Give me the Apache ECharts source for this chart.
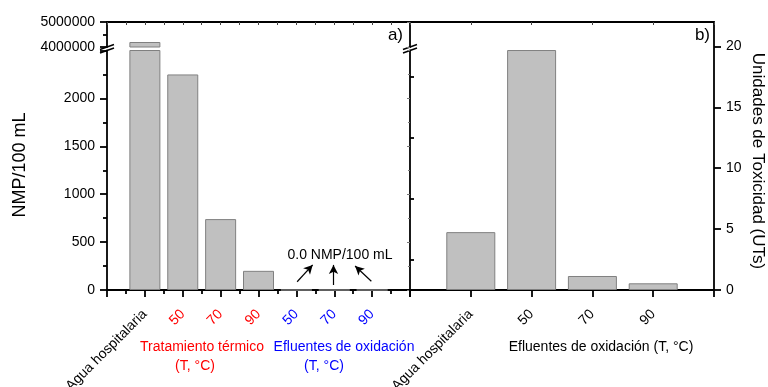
<!DOCTYPE html>
<html>
<head>
<meta charset="utf-8">
<script src="https://cdn.jsdelivr.net/npm/echarts@6/dist/echarts.min.js"></script>
<style>html,body{margin:0;padding:0;background:#fff}#c{width:768px;height:387px}</style>
</head>
<body>
<div id="c"></div>
<script>
// ---- data ----
const catsA = ['Agua hospitalaria', '50', '70', '90', '50', '70', '90'];
const groupA = ['base', 'thermal', 'thermal', 'thermal', 'oxid', 'oxid', 'oxid'];
const nmpValues = [4200000, 2250, 740, 200, 0, 0, 0];
const catsB = ['Agua hospitalaria', '50', '70', '90'];
const utsValues = [4.75, 19.7, 1.15, 0.55];
const upperTicks = [4000000, 5000000];
const lowerTicks = [0, 500, 1000, 1500, 2000];
const utsTicks = [0, 5, 10, 15, 20];
const utsMinorTicks = [2.5, 7.5, 12.5, 17.5];

const FONT = '"Liberation Sans", Arial, sans-serif';
const BLACK = '#000';
const groupColor = {base: '#000000', thermal: '#ff0000', oxid: '#0000ff'};

const chart = echarts.init(document.getElementById('c'), null, {renderer: 'canvas'});

const LW = 1.8;
const axisLine = () => ({show: true, onZero: false, lineStyle: {color: BLACK, width: LW}});

const barStyle = {color: '#c0c0c0', borderColor: '#808080', borderWidth: 1};

const richA = {};
Object.keys(groupColor).forEach(k => {
  richA[k] = {color: groupColor[k], fontSize: 14, fontFamily: FONT};
});

function breakMark(x, y) {
  return {
    type: 'group', x: x, y: y, z: 100,
    children: [
      {type: 'polygon', shape: {points: [[-7, 1], [7, -4], [7, -0.5], [-7, 4.5]]}, style: {fill: '#fff', stroke: null}},
      {type: 'line', shape: {x1: -7, y1: 1, x2: 7, y2: -4}, style: {stroke: BLACK, lineWidth: 1.4}},
      {type: 'line', shape: {x1: -7, y1: 4.5, x2: 7, y2: -0.5}, style: {stroke: BLACK, lineWidth: 1.4}}
    ]
  };
}

function txt(x, y, text, opts) {
  return Object.assign({
    type: 'text', x: x, y: y, z: 100,
    style: Object.assign({text: text, font: '14px ' + FONT, fill: BLACK, align: 'center', verticalAlign: 'middle'}, opts && opts.style || {})
  }, opts && opts.el || {});
}

const gridBase = {containLabel: false, outerBoundsMode: 'none'};

const option = {
  animation: false,
  backgroundColor: '#fff',
  grid: [
    Object.assign({left: 107, top: 22, width: 303, height: 25}, gridBase),
    Object.assign({left: 107, top: 50.5, width: 303, height: 239.5}, gridBase),
    Object.assign({left: 410, top: 22, width: 304, height: 268}, gridBase)
  ],
  xAxis: [
    {type: 'value', gridIndex: 0, min: 0, max: 8, interval: 1, show: false},
    {type: 'value', gridIndex: 0, position: 'top', min: 0, max: 8, interval: 1,
      axisLine: axisLine(), axisLabel: {show: false}, splitLine: {show: false},
      axisTick: {show: true, inside: true, length: 3, lineStyle: {color: '#444', width: 1}},
      minorTick: {show: true, splitNumber: 2, length: 3, lineStyle: {color: '#444', width: 1}}},
    {type: 'value', gridIndex: 1, position: 'bottom', min: 0, max: 8, interval: 1,
      axisLine: axisLine(), splitLine: {show: false},
      axisTick: {show: true, inside: false, length: 7, lineStyle: {color: BLACK, width: LW}},
      minorTick: {show: true, splitNumber: 2, length: 4, lineStyle: {color: BLACK, width: LW}},
      axisLabel: {
        rotate: 45, margin: 22, fontSize: 14, fontFamily: FONT,
        formatter: function (v) {
          const i = Math.round(v) - 1;
          if (i < 0 || i >= catsA.length) return '';
          return '{' + groupA[i] + '|' + catsA[i] + '}';
        },
        rich: richA
      }},
    {type: 'value', gridIndex: 2, position: 'bottom', min: 0, max: catsB.length + 1, interval: 1,
      axisLine: axisLine(), splitLine: {show: false},
      axisTick: {show: true, inside: false, length: 7, lineStyle: {color: BLACK, width: LW}},
      axisLabel: {
        rotate: 45, margin: 22, fontSize: 14, fontFamily: FONT, color: BLACK,
        formatter: function (v) {
          const i = Math.round(v) - 1;
          if (i < 0 || i >= catsB.length) return '';
          return catsB[i];
        }
      }},
    {type: 'value', gridIndex: 2, position: 'top', min: 0, max: catsB.length + 1, interval: 1,
      axisLine: axisLine(), axisLabel: {show: false}, splitLine: {show: false},
      axisTick: {show: true, inside: true, length: 3, lineStyle: {color: '#444', width: 1}}}
  ],
  yAxis: [
    {type: 'value', gridIndex: 0, position: 'left', min: upperTicks[0], max: upperTicks[upperTicks.length - 1],
      interval: upperTicks[1] - upperTicks[0],
      axisLine: axisLine(), splitLine: {show: false},
      axisTick: {show: true, inside: false, length: 7, lineStyle: {color: BLACK, width: LW}},
      minorTick: {show: true, splitNumber: 2, length: 4, lineStyle: {color: BLACK, width: LW}},
      axisLabel: {margin: 12, fontSize: 14, fontFamily: FONT, color: BLACK, formatter: v => String(v)}},
    {type: 'value', gridIndex: 0, position: 'right', min: upperTicks[0], max: upperTicks[upperTicks.length - 1],
      interval: upperTicks[1] - upperTicks[0],
      axisLine: axisLine(), splitLine: {show: false}, axisLabel: {show: false},
      axisTick: {show: true, inside: true, length: 3, lineStyle: {color: '#777', width: 1}}},
    {type: 'value', gridIndex: 1, position: 'left', min: 0, max: 2500, interval: 500,
      axisLine: axisLine(), splitLine: {show: false},
      axisTick: {show: true, inside: false, length: 7, lineStyle: {color: BLACK, width: LW}},
      minorTick: {show: true, splitNumber: 2, length: 4, lineStyle: {color: BLACK, width: LW}},
      axisLabel: {margin: 12, fontSize: 14, fontFamily: FONT, color: BLACK, showMaxLabel: false,
        formatter: v => (lowerTicks.indexOf(v) >= 0 ? String(v) : '')}},
    {type: 'value', gridIndex: 1, position: 'right', min: 0, max: 2500, interval: 500,
      axisLine: axisLine(), splitLine: {show: false}, axisLabel: {show: false},
      axisTick: {show: true, inside: true, length: 3, lineStyle: {color: '#777', width: 1}},
      minorTick: {show: true, splitNumber: 2, length: 2, lineStyle: {color: '#777', width: 1}}},
    {type: 'value', gridIndex: 2, position: 'right', min: 0, max: 22,
      axisLine: axisLine(), splitLine: {show: false},
      axisTick: {show: true, inside: false, length: 7, customValues: utsTicks, lineStyle: {color: BLACK, width: LW}},
      axisLabel: {margin: 12, fontSize: 14, fontFamily: FONT, color: BLACK, customValues: utsTicks}},
    {type: 'value', gridIndex: 2, position: 'right', min: 0, max: 22,
      axisLine: {show: false}, splitLine: {show: false}, axisLabel: {show: false},
      axisTick: {show: true, inside: false, length: 4, customValues: utsMinorTicks, lineStyle: {color: BLACK, width: LW}}}
  ],
  series: [
    {type: 'bar', xAxisIndex: 0, yAxisIndex: 0, barWidth: 31, clip: true,
      itemStyle: barStyle, data: nmpValues.map((v, i) => [i + 1, v])},
    {type: 'bar', xAxisIndex: 2, yAxisIndex: 2, barWidth: 31, clip: true,
      itemStyle: barStyle, data: nmpValues.map((v, i) => [i + 1, v]),
      markLine: {
        silent: true, symbol: ['none', 'arrow'], symbolSize: [7, 9],
        label: {show: false},
        lineStyle: {color: BLACK, width: 1.2, type: 'solid'},
        data: [
          [{coord: [5.02, 86]}, {coord: [5.43, 262]}],
          [{coord: [5.98, 52]}, {coord: [5.98, 262]}],
          [{coord: [6.98, 92]}, {coord: [6.55, 250]}]
        ]
      }},
    {type: 'bar', xAxisIndex: 3, yAxisIndex: 4, barWidth: 49, clip: true,
      itemStyle: barStyle, data: utsValues.map((v, i) => [i + 1, v])}
  ],
  graphic: [
    breakMark(107, 48.5),
    breakMark(410, 48.5),
    txt(20, 165, 'NMP/100 mL', {style: {font: '18px ' + FONT}, el: {rotation: Math.PI / 2}}),
    txt(758, 161, 'Unidades de Toxicidad (UTs)', {style: {font: '17px ' + FONT}, el: {rotation: -Math.PI / 2}}),
    txt(403, 35, 'a)', {style: {font: '17px ' + FONT, align: 'right'}}),
    txt(710, 35, 'b)', {style: {font: '17px ' + FONT, align: 'right'}}),
    txt(340, 255, '0.0 NMP/100 mL'),
    txt(202, 347, 'Tratamiento térmico', {style: {fill: '#ff0000'}}),
    txt(195, 366, '(T, °C)', {style: {fill: '#ff0000'}}),
    txt(344, 347, 'Efluentes de oxidación', {style: {fill: '#0000ff'}}),
    txt(324, 366, '(T, °C)', {style: {fill: '#0000ff'}}),
    txt(601, 347, 'Efluentes de oxidación (T, °C)')
  ]
};
chart.setOption(option);
</script>
</body>
</html>
